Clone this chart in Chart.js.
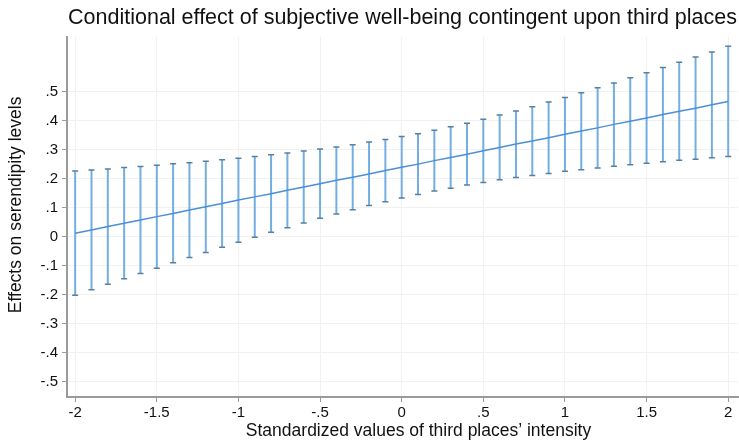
<!DOCTYPE html>
<html>
<head>
<meta charset="utf-8">
<script src="https://cdn.jsdelivr.net/npm/chart.js@4"></script>
<style>
  html, body { margin: 0; padding: 0; background: #fff; }
  #wrap { width: 739px; height: 442px; }
</style>
</head>
<body>
<div id="wrap"><canvas id="chart" width="739" height="442"></canvas></div>
<script>
'use strict'

// values of third places' intensity (standardized)
const xValues = [-2, -1.9, -1.8, -1.7, -1.6, -1.5, -1.4, -1.3, -1.2, -1.1, -1, -0.9, -0.8, -0.7, -0.6, -0.5, -0.4, -0.3, -0.2, -0.1,
  0, 0.1, 0.2, 0.3, 0.4, 0.5, 0.6, 0.7, 0.8, 0.9, 1, 1.1, 1.2, 1.3, 1.4, 1.5, 1.6, 1.7, 1.8, 1.9, 2]
// conditional effect (point estimate)
const effect = [0.013, 0.024, 0.036, 0.047, 0.058, 0.070, 0.081, 0.093, 0.104, 0.115, 0.127, 0.138, 0.149, 0.161, 0.172, 0.183, 0.195, 0.206, 0.217, 0.229,
  0.240, 0.251, 0.263, 0.274, 0.285, 0.297, 0.308, 0.320, 0.331, 0.342, 0.354, 0.365, 0.376, 0.388, 0.399, 0.410, 0.422, 0.433, 0.444, 0.456, 0.467]
// confidence interval
const ciLow = [-0.201, -0.182, -0.163, -0.144, -0.126, -0.108, -0.089, -0.071, -0.054, -0.036, -0.018, -0.001, 0.016, 0.032, 0.048, 0.064, 0.079, 0.094, 0.108, 0.121,
  0.134, 0.146, 0.158, 0.168, 0.179, 0.188, 0.197, 0.205, 0.212, 0.219, 0.226, 0.232, 0.238, 0.244, 0.249, 0.254, 0.259, 0.264, 0.268, 0.273, 0.277]
const ciHigh = [0.227, 0.231, 0.234, 0.239, 0.243, 0.247, 0.252, 0.256, 0.261, 0.266, 0.271, 0.277, 0.283, 0.289, 0.296, 0.303, 0.310, 0.318, 0.327, 0.336,
  0.346, 0.356, 0.368, 0.380, 0.392, 0.406, 0.420, 0.434, 0.449, 0.465, 0.481, 0.497, 0.514, 0.531, 0.549, 0.566, 0.584, 0.602, 0.620, 0.638, 0.657]

const xTicks = [-2, -1.5, -1, -0.5, 0, 0.5, 1, 1.5, 2]
const yTicks = [-0.5, -0.4, -0.3, -0.2, -0.1, 0, 0.1, 0.2, 0.3, 0.4, 0.5]

const titleText = 'Conditional effect of subjective well-being contingent upon third places'
const xTitle = 'Standardized values of third places\u2019 intensity'
const yTitle = 'Effects on serendipity levels'

const colors = {
  line: '#4a8fd8',
  bar: '#74aee0',
  cap: '#55809f',
  axis: '#9a9a9a',
  grid: '#f1f1f1',
  text: '#111'
}

const fontFamily = '"Liberation Sans", Arial, sans-serif'
const font = { family: fontFamily }

// stata style labels: .5, -.5, 0
const fmt = (v) => {
  const s = String(Math.round(v * 100) / 100)
  return s.replace(/^0\./, '.').replace(/^-0\./, '-.')
}

// error bars with caps
const errorBarPlugin = {
  id: 'errorBars',
  beforeDatasetsDraw(chart) {
    const { ctx, scales: { x, y } } = chart
    ctx.save()
    xValues.forEach((xv, i) => {
      const px = x.getPixelForValue(xv)
      const lo = y.getPixelForValue(ciLow[i])
      const hi = y.getPixelForValue(ciHigh[i])
      ctx.strokeStyle = colors.bar
      ctx.lineWidth = 2
      ctx.beginPath()
      ctx.moveTo(px, hi)
      ctx.lineTo(px, lo)
      ctx.stroke()
      ctx.strokeStyle = colors.cap
      ctx.lineWidth = 1.5
      ctx.beginPath()
      ctx.moveTo(px - 3, hi)
      ctx.lineTo(px + 3, hi)
      ctx.moveTo(px - 3, lo)
      ctx.lineTo(px + 3, lo)
      ctx.stroke()
    })
    ctx.restore()
  }
}

// axis titles, placed like the stata graph (slightly off the plot centre)
const axisTitlePlugin = {
  id: 'axisTitles',
  afterDraw(chart) {
    const { ctx, chartArea } = chart
    ctx.save()
    ctx.fillStyle = colors.text
    ctx.font = `17.5px ${fontFamily}`
    ctx.textAlign = 'center'
    ctx.textBaseline = 'middle'
    ctx.fillText(xTitle, (chartArea.left + chartArea.right) / 2 + 16, 431)
    ctx.translate(16, (chartArea.top + chartArea.bottom) / 2 - 12)
    ctx.rotate(-Math.PI / 2)
    ctx.fillText(yTitle, 0, 0)
    ctx.restore()
  }
}

new Chart(document.getElementById('chart'), {
  type: 'line',
  data: {
    datasets: [{
      data: xValues.map((xv, i) => ({ x: xv, y: effect[i] })),
      borderColor: colors.line,
      borderWidth: 1.5,
      pointRadius: 0,
      tension: 0
    }]
  },
  options: {
    responsive: false,
    animation: false,
    layout: { padding: { left: 0, right: 1, top: 0, bottom: 0 } },
    plugins: {
      legend: { display: false },
      tooltip: { enabled: false },
      title: {
        display: true,
        fullSize: false,
        text: titleText,
        color: colors.text,
        font: { ...font, size: 21.5, weight: 'normal' },
        padding: { top: 5, bottom: 6 }
      }
    },
    scales: {
      x: {
        type: 'linear',
        min: -2.05,
        max: 2.06,
        afterBuildTicks: (scale) => { scale.ticks = xTicks.map(v => ({ value: v })) },
        afterFit: (scale) => { scale.height = 45 },
        border: { color: colors.axis, width: 2 },
        grid: { color: colors.grid, tickColor: colors.axis, tickLength: 5 },
        ticks: { color: colors.text, font: { ...font, size: 15 }, padding: 2, maxRotation: 0, callback: (v) => fmt(v) }
      },
      y: {
        min: -0.552,
        max: 0.69,
        afterBuildTicks: (scale) => { scale.ticks = yTicks.map(v => ({ value: v })) },
        afterFit: (scale) => { scale.width = 67 },
        border: { color: colors.axis, width: 2 },
        grid: { color: colors.grid, tickColor: colors.axis, tickLength: 5 },
        ticks: { color: colors.text, font: { ...font, size: 15 }, padding: 4, callback: (v) => fmt(v) }
      }
    }
  },
  plugins: [errorBarPlugin, axisTitlePlugin]
})
</script>
</body>
</html>
